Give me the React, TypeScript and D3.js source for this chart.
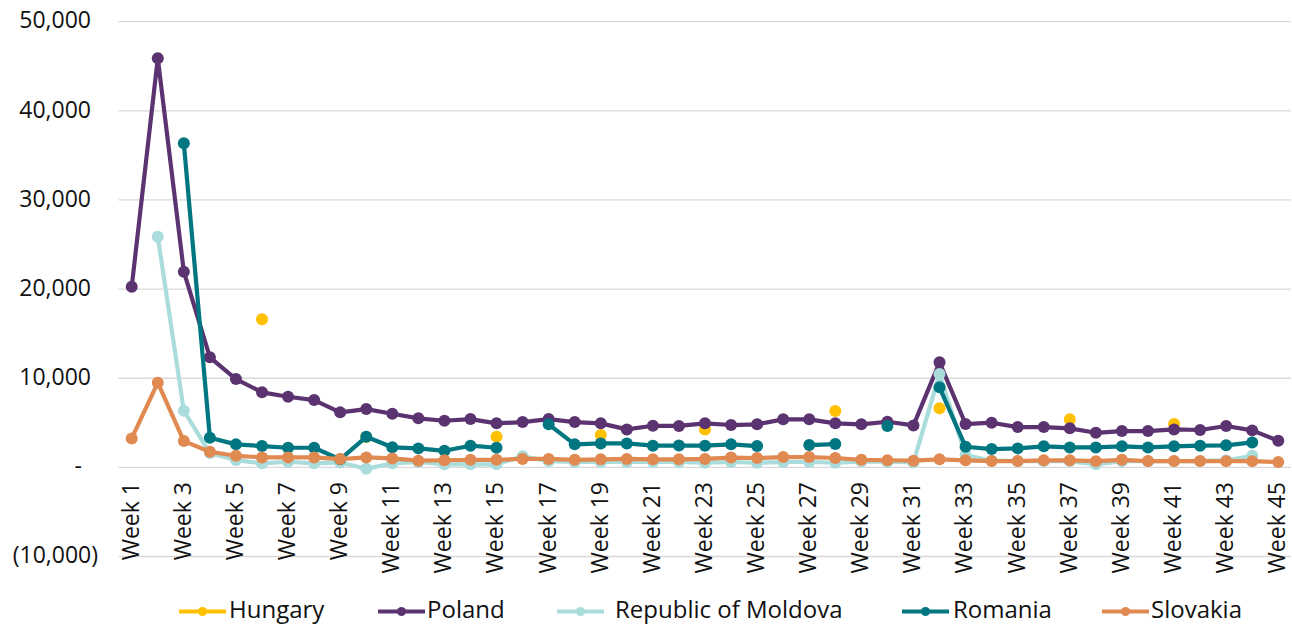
import React from 'react'
import * as d3 from 'd3'

const weeks = d3.range(1, 46).map((w) => `Week ${w}`)

const hungary = [null, null, null, null, null, 16610, null, null, null, 3400,
  null, null, null, null, 3430, null, null, null, 3620, null,
  null, null, 4260, null, null, null, null, 6320, null, null,
  null, 6620, null, null, null, null, 5390, null, null, null,
  4860, null, null, null, null]

const poland = [20270, 45900, 21950, 12350, 9910, 8420, 7920, 7550, 6170, 6540,
  6020, 5500, 5230, 5420, 4940, 5080, 5420, 5080, 4940, 4260,
  4670, 4650, 4940, 4750, 4830, 5390, 5390, 4940, 4830, 5120,
  4710, 11780, 4860, 5010, 4520, 4520, 4380, 3880, 4070, 4070,
  4260, 4190, 4640, 4150, 2990]

const moldova = [null, 25880, 6350, 1600, 820, 450, 630, 450, 550, -150,
  450, 600, 340, 340, 340, 1250, 700, 600, 600, 600,
  600, 600, 520, 600, 520, 600, 600, 520, 650, 630,
  560, 10470, 1380, 750, 700, 700, 700, 340, 700, 700,
  700, 700, 800, 1300, null]

const romania = [null, null, 36360, 3320, 2580, 2390, 2200, 2200, 900, 3430,
  2250, 2130, 1860, 2430, 2200, null, 4830, 2580, 2690, 2690,
  2430, 2450, 2430, 2580, 2390, null, 2500, 2610, null, 4640,
  null, 8980, 2310, 2050, 2130, 2360, 2240, 2240, 2360, 2240,
  2360, 2430, 2470, 2800, null]

const slovakia = [3250, 9500, 2950, 1750, 1300, 1120, 1120, 1120, 930, 1120,
  1000, 750, 800, 850, 850, 950, 950, 850, 900, 950,
  900, 900, 950, 1100, 1050, 1150, 1150, 1050, 850, 800,
  750, 900, 790, 710, 710, 790, 790, 700, 850, 710,
  710, 710, 700, 700, 600]

const yTicks = [-10000, 0, 10000, 20000, 30000, 40000, 50000]

const series = [
  { name: 'Hungary', values: hungary, color: '#FFC000' },
  { name: 'Poland', values: poland, color: '#5B3370' },
  { name: 'Republic of Moldova', values: moldova, color: '#A9DCDB' },
  { name: 'Romania', values: romania, color: '#007681' },
  { name: 'Slovakia', values: slovakia, color: '#E08A52' },
]

const W = 1292
const H = 624
const FONT = '"Open Sans", sans-serif'
// legend item starts (line) and text starts
const legendLineX = [179, 378, 557, 902, 1102]
const legendTextX = [229, 427, 615, 953, 1151]

const fmt = (v: number) => {
  if (v === 0) return '-'
  const s = d3.format(',')(Math.abs(v))
  return v < 0 ? `(${s})` : s
}

export default function App() {
  const x = d3.scalePoint<string>().domain(weeks).range([118.7, 1291.3]).padding(0.5)
  const y = d3.scaleLinear().domain([-10000, 50000]).range([556.5, 21.7])

  const line = d3.line<number | null>()
    .defined((d) => d !== null)
    .x((_, i) => x(weeks[i]) as number)
    .y((d) => y(d as number))

  return (
    <svg width={W} height={H} style={{ position: 'absolute', left: 0, top: 0, background: '#fff' }}
      fontFamily={FONT}>
      {/* gridlines */}
      {yTicks.map((t) => (
        <line key={t} x1={118.5} x2={1291} y1={y(t)} y2={y(t)} stroke="#d9d9d9" strokeWidth={1.3} />
      ))}
      {/* y labels */}
      {yTicks.map((t) => (
        <text key={t} x={98} y={y(t)} dy="0.29em" dx={t < 0 ? 0 : t === 0 ? -16 : -7}
          textAnchor="end" fontSize={23} fill="#111">{fmt(t)}</text>
      ))}
      {/* x labels */}
      {weeks.filter((_, i) => i % 2 === 0).map((w) => (
        <text key={w} transform={`translate(${x(w)},482) rotate(-90)`} dy="0.3em"
          textAnchor="end" fontSize={23} fill="#111">{w}</text>
      ))}
      {/* series */}
      {series.map((s) => (
        <g key={s.name}>
          {s.name !== 'Hungary' && (
            <path d={line(s.values) || ''} fill="none" stroke={s.color} strokeWidth={4.2}
              strokeLinejoin="round" />
          )}
          {s.values.map((v, i) => v === null ? null : (
            <circle key={i} cx={x(weeks[i])} cy={y(v)} r={6} fill={s.color} />
          ))}
        </g>
      ))}
      {/* legend */}
      {series.map((s, i) => (
        <g key={s.name}>
          <line x1={legendLineX[i]} x2={legendLineX[i] + 47} y1={611.5} y2={611.5}
            stroke={s.color} strokeWidth={4.2} />
          <circle cx={legendLineX[i] + 23.5} cy={611.5} r={4.5} fill={s.color} />
          <text x={legendTextX[i]} y={618} fontSize={24} fill="#111">{s.name}</text>
        </g>
      ))}
    </svg>
  )
}
